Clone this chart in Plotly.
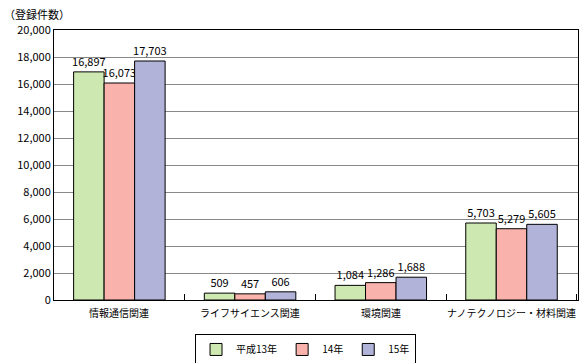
import plotly.graph_objects as go

categories = ["情報通信関連", "ライフサイエンス関連", "環境関連", "ナノテクノロジー・材料関連"]
series_names = ["平成13年", "14年", "15年"]
v13 = [16897, 509, 1084, 5703]
v14 = [16073, 457, 1286, 5279]
v15 = [17703, 606, 1688, 5605]
colors = ["#cde8b0", "#f9b3ac", "#b1b3d8"]
tick_vals = list(range(0, 20001, 2000))
tick_text = [f"{v:,}" for v in tick_vals]

font = "Noto Sans CJK JP"
fig = go.Figure()
for name, vals, c in zip(series_names, [v13, v14, v15], colors):
    fig.add_trace(go.Bar(
        x=categories, y=vals, name=name,
        marker=dict(color=c, line=dict(color="black", width=1)),
        text=[f"{v:,}" for v in vals], textposition="outside",
        constraintext="none",
        textfont=dict(size=11, color="black", family=font),
        cliponaxis=False,
    ))

annotations = [dict(text="（登録件数）", x=0, y=1, xref="paper", yref="paper",
                    xshift=-52, yshift=6, xanchor="left", yanchor="bottom",
                    showarrow=False, font=dict(size=11))]
for i, cat in enumerate(categories):
    annotations.append(dict(text=cat, x=cat, y=0, xref="x", yref="paper",
                            yshift=-3, xanchor="center", yanchor="top",
                            showarrow=False, font=dict(size=10)))

fig.update_layout(
    width=584, height=363,
    margin=dict(l=54, r=6, t=30, b=63),
    paper_bgcolor="white", plot_bgcolor="white",
    barmode="group", bargap=0.3, bargroupgap=0,
    font=dict(family=font, size=11, color="black"),
    showlegend=True,
    legend=dict(orientation="h", x=0.48, xanchor="center",
                yref="container", y=0.08, yanchor="top",
                bordercolor="black", borderwidth=1, font=dict(size=10),
                itemwidth=30, traceorder="normal", tracegroupgap=0),
    xaxis=dict(showline=True, linecolor="black", linewidth=1, mirror=True,
               ticks="inside", ticklen=6, tickcolor="black", tickson="boundaries",
               showticklabels=False, automargin=False),
    yaxis=dict(range=[0, 20000], tickvals=tick_vals, ticktext=tick_text,
               showgrid=True, gridcolor="#888888", gridwidth=1,
               showline=True, linecolor="black", linewidth=1, mirror=True,
               ticks="", tickfont=dict(size=11), automargin=False),
    annotations=annotations,
)
fig.write_html("out.html", config={"displayModeBar": False},
               post_script="document.body.style.margin='0';document.body.style.overflow='hidden';")
